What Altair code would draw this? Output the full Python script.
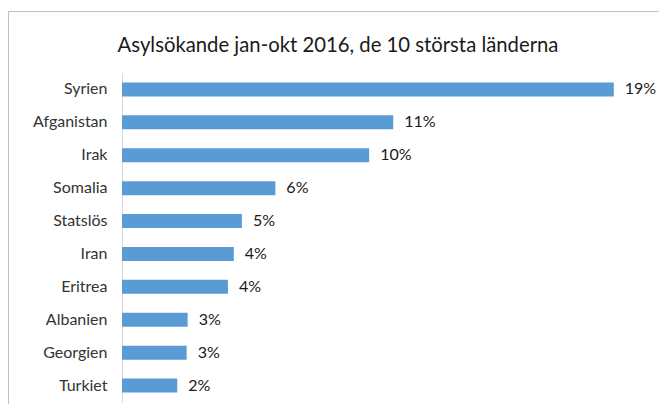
import altair as alt
import pandas as pd

countries = ["Syrien", "Afganistan", "Irak", "Somalia", "Statslös",
             "Iran", "Eritrea", "Albanien", "Georgien", "Turkiet"]
shares = [19.4, 10.7, 9.75, 6.05, 4.73, 4.41, 4.18, 2.59, 2.55, 2.18]

title_text = "Asylsökande jan-okt 2016, de 10 största länderna"

df = pd.DataFrame({"land": countries, "andel": shares})

FONT = "Lato"
FS = 16

y_enc = alt.Y("land:N", sort=countries, title=None,
              scale=alt.Scale(paddingInner=0.575, paddingOuter=0.2875),
              axis=alt.Axis(ticks=False, domainColor="#d9d9d9", domainWidth=1,
                            labelFont=FONT, labelFontSize=FS, labelColor="#333333",
                            labelPadding=15, grid=False))
x_enc = alt.X("andel:Q", scale=alt.Scale(domain=[0, 20]), axis=None)

border = alt.Chart(pd.DataFrame({"a": [0]})).mark_rect(
    fill=None, stroke="#bfbfbf", strokeWidth=1
).encode(x=alt.value(-113.5), x2=alt.value(700), y=alt.value(-61.5), y2=alt.value(400))

title = alt.Chart(pd.DataFrame({"t": [title_text]})).mark_text(
    align="center", baseline="alphabetic", font=FONT, fontSize=20.3, color="#1a1a1a"
).encode(x=alt.value(216), y=alt.value(-21), text="t:N")

bars = alt.Chart(df).mark_bar(color="#5b9bd5").encode(y=y_enc, x=x_enc)

labels = alt.Chart(df).transform_calculate(
    lbl="format(datum.andel, '.0f') + '%'"
).mark_text(align="left", baseline="middle", dx=11, font=FONT, fontSize=FS,
            color="#1a1a1a").encode(y=y_enc, x=x_enc, text="lbl:N")

chart = alt.layer(border, title, bars, labels).properties(
    width=507, height=329,
    autosize=alt.AutoSizeParams(type="none"),
    padding={"left": 114, "top": 65, "right": 30, "bottom": 2},
).configure_view(stroke=None)

chart.save("out.html", embed_options={"renderer": "svg", "actions": False})
